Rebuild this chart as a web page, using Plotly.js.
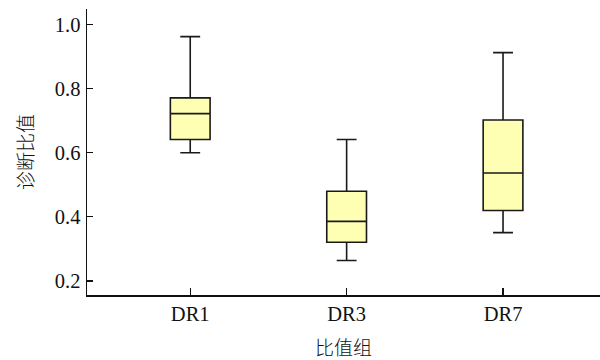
<!DOCTYPE html>
<html><head><meta charset="utf-8">
<script src="https://cdn.plot.ly/plotly-3.0.1.min.js"></script>
<style>html,body{margin:0;padding:0;background:#fff}#chart{width:600px;height:360px}</style>
</head><body><div id="chart"></div>
<script>
const categories = ['DR1', 'DR3', 'DR7'];
const lowerWhisker = [0.600, 0.264, 0.351];
const q1 = [0.641, 0.321, 0.420];
const median = [0.722, 0.386, 0.537];
const q3 = [0.771, 0.480, 0.702];
const upperWhisker = [0.962, 0.641, 0.912];
const yTicks = [0.2, 0.4, 0.6, 0.8, 1.0];

const trace = {
  type: 'box',
  x: categories,
  q1: q1, median: median, q3: q3,
  lowerfence: lowerWhisker, upperfence: upperWhisker,
  boxpoints: false,
  width: 0.254,
  whiskerwidth: 0.5,
  fillcolor: '#ffffb4',
  line: {color: '#1a1a1a', width: 1.6},
  hoverinfo: 'skip'
};

const layout = {
  width: 600, height: 360,
  margin: {l: 87, r: 0, t: 9, b: 65},
  paper_bgcolor: '#fff', plot_bgcolor: '#fff',
  showlegend: false,
  font: {family: '"Liberation Serif", "Times New Roman", serif', size: 20.5, color: '#111'},
  xaxis: {
    type: 'category',
    range: [-0.66, 2.62],
    showline: true, linecolor: '#111', linewidth: 1.5,
    ticks: 'inside', ticklen: 7, tickwidth: 1.2, tickcolor: '#111',
    showgrid: false, zeroline: false,
    ticklabelstandoff: 0,
    title: {text: '比值组', font: {family: '"Noto Sans CJK SC", sans-serif', size: 19, weight: 300}, standoff: 20}
  },
  yaxis: {
    range: [0.1565, 1.048],
    tickvals: yTicks, tickformat: '.1f',
    showline: true, linecolor: '#111', linewidth: 1.5,
    ticks: 'inside', ticklen: 6, tickwidth: 1.2, tickcolor: '#111',
    showgrid: false, zeroline: false,
    ticklabelstandoff: 1,
    title: {text: '诊断比值', font: {family: '"Noto Sans CJK SC", sans-serif', size: 19, weight: 300}, standoff: 16}
  }
};

Plotly.newPlot('chart', [trace], layout, {displayModeBar: false, staticPlot: true});
</script></body></html>
